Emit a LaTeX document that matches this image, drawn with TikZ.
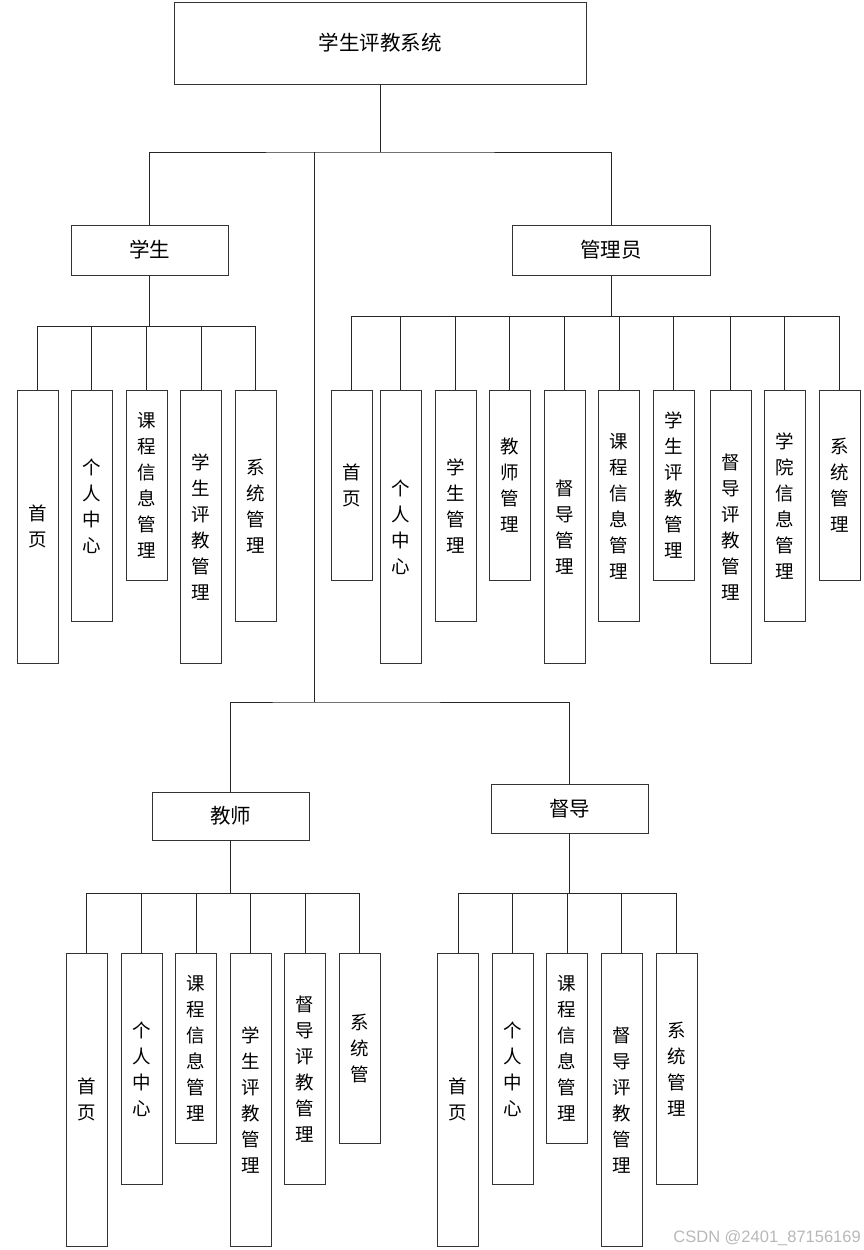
\documentclass[tikz,border=0pt]{standalone}
\usepackage{fontspec}
\setmainfont{Noto Sans CJK SC}
\newfontfamily\markfont{Liberation Sans}

\tikzset{
  box/.style={draw=black!80, line width=0.8pt, fill=white, inner sep=0pt},
  head/.style={box, font=\fontsize{20.5}{24}\selectfont},
  leaf/.style={box, anchor=north, minimum width=41, align=center,
    font=\fontsize{18.5}{26}\selectfont},
  link/.style={black!85, line width=0.8pt}
}

\begin{document}
\begin{tikzpicture}[x=1pt, y=-1pt]
    \useasboundingbox (0,0) rectangle (864,1250);

    % 顶层系统
    \node[head, minimum width=412, minimum height=82] (root) at (380,43) {学生评教系统};

    % 四个角色
    \node[head, minimum width=157, minimum height=50] (stu) at (149.5,250) {学生};
    \node[head, minimum width=198, minimum height=50] (adm) at (611,250) {管理员};
    \node[head, minimum width=157, minimum height=48] (tea) at (230.5,816) {教师};
    \node[head, minimum width=157, minimum height=49] (sup) at (569.5,808.5) {督导};

    % 总线位置
    \coordinate (mbus) at (0,152);
    \coordinate (mid) at (314,152);
    \coordinate (midbus) at (314,702);
    \coordinate (sbus) at (0,326);
    \coordinate (abus) at (0,316);
    \coordinate (tbus) at (0,893);

    % 系统到角色
    \draw[link] (root.south) -- (root.south |- mbus);
    \draw[link] (stu.north) |- (root.south |- mbus) -| (adm.north);
    \draw[link] (mid) -- (midbus);
    \draw[link] (tea.north) |- (midbus) -| (sup.north);

    % 学生功能
    \draw[link] (stu.south) -- (stu.south |- sbus);
    \foreach \x/\h/\t [count=\i] in {37.5/273/首\\页, 91.5/231/个\\人\\中\\心,
        146.5/190/课\\程\\信\\息\\管\\理, 201/273/学\\生\\评\\教\\管\\理,
        255.5/231/系\\统\\管\\理}
    {
        \node[leaf, minimum height=\h] (s\i) at (\x,390) {\t};
        \draw[link] (s\i.north) |- (stu.south |- sbus);
    }

    % 管理员功能
    \draw[link] (adm.south) -- (adm.south |- abus);
    \foreach \x/\h/\t [count=\i] in {351.5/190/首\\页, 400.5/273/个\\人\\中\\心,
        455.5/231/学\\生\\管\\理, 509.5/190/教\\师\\管\\理,
        564.5/273/督\\导\\管\\理, 619/231/课\\程\\信\\息\\管\\理,
        673.5/190/学\\生\\评\\教\\管\\理, 730.5/273/督\\导\\评\\教\\管\\理,
        784.5/231/学\\院\\信\\息\\管\\理, 839.5/190/系\\统\\管\\理}
    {
        \node[leaf, minimum height=\h] (a\i) at (\x,390) {\t};
        \draw[link] (a\i.north) |- (adm.south |- abus);
    }

    % 教师功能
    \draw[link] (tea.south) -- (tea.south |- tbus);
    \foreach \x/\h/\t [count=\i] in {86.5/293/首\\页, 141.5/231/个\\人\\中\\心,
        196/190/课\\程\\信\\息\\管\\理, 250.5/293/学\\生\\评\\教\\管\\理,
        305/231/督\\导\\评\\教\\管\\理, 359.5/190/系\\统\\管}
    {
        \node[leaf, minimum height=\h] (t\i) at (\x,953) {\t};
        \draw[link] (t\i.north) |- (tea.south |- tbus);
    }

    % 督导功能
    \draw[link] (sup.south) -- (sup.south |- tbus);
    \foreach \x/\h/\t [count=\i] in {458/293/首\\页, 512.5/231/个\\人\\中\\心,
        567/190/课\\程\\信\\息\\管\\理, 621.5/293/督\\导\\评\\教\\管\\理,
        676.5/231/系\\统\\管\\理}
    {
        \node[leaf, minimum height=\h] (d\i) at (\x,953) {\t};
        \draw[link] (d\i.north) |- (sup.south |- tbus);
    }

    % 水印
    \node[anchor=base east, inner sep=0pt, text=black!28,
      font=\markfont\fontsize{16.5}{16.5}\selectfont] (mark) at (861,1242) {CSDN @2401\_87156169};
\end{tikzpicture}
\end{document}
